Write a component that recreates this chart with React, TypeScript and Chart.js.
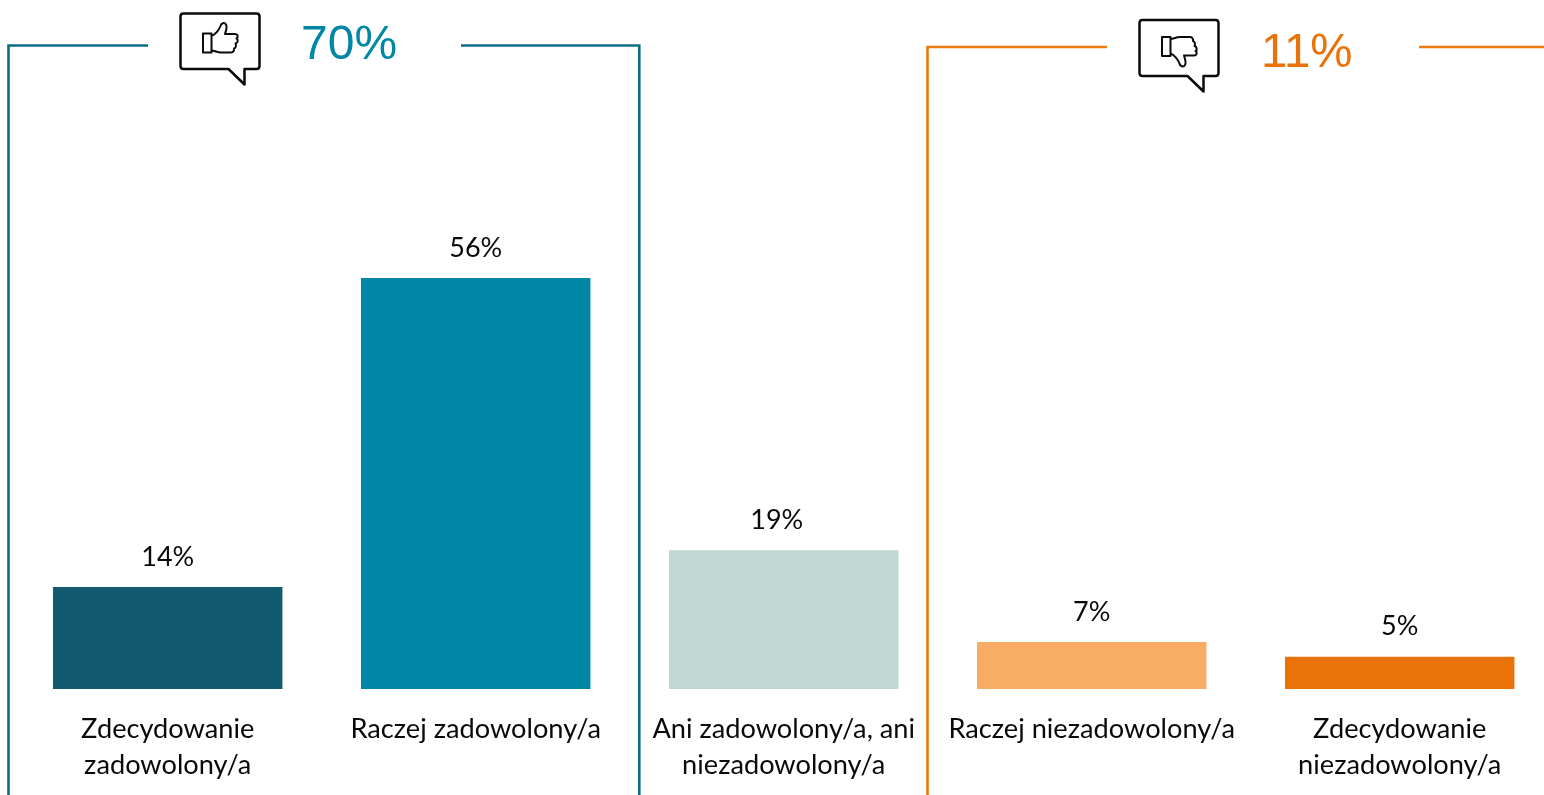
import React, { useEffect, useRef } from "react";
import { Chart, registerables, Plugin } from "chart.js";

Chart.register(...registerables);

const categories: string[][] = [
  ["Zdecydowanie", "zadowolony/a"],
  ["Raczej zadowolony/a"],
  ["Ani zadowolony/a, ani", "niezadowolony/a"],
  ["Raczej niezadowolony/a"],
  ["Zdecydowanie", "niezadowolony/a"],
];
const values: number[] = [13.9, 56, 18.9, 6.4, 4.4];
const valueLabels: string[] = ["14%", "56%", "19%", "7%", "5%"];
const barColors: string[] = ["#125A70", "#0087A8", "#BFD8D2", "#F9AC63", "#EA7309"];
const positiveTotal = "70%";
const negativeTotal = "11%";

const FONT = "Lato, Carlito, Calibri, sans-serif";
const TEAL_LINE = "#0B6E84";
const ORANGE_LINE = "#EA7A12";

const THUMB =
  "M203 33.5 H211.5 V52.5 H203 Z " +
  "M211.5 36 C215 35 219 30 220.5 26 C221 23 224.5 22 226 24.5 C227.5 27 226 31 225 34 " +
  "H235 C238 34 238.5 37.5 236.5 38.5 C238.5 39.5 238 43 235.5 43.5 C236.5 45 236 48 234 48.5 " +
  "C234.5 50 233.5 52.5 231 52.5 H221 C217 52.5 215 50.5 211.5 50.5";

function drawIcon(ctx: CanvasRenderingContext2D, bx: number, by: number, flip: boolean, thumbDx: number, flipSum: number) {
  const w = 79;
  const h = flip ? 56 : 55.5;
  ctx.save();
  ctx.strokeStyle = "#0A0A0A";
  ctx.lineWidth = 2.5;
  ctx.lineJoin = "round";
  ctx.beginPath();
  const r = 3;
  ctx.moveTo(bx + r, by);
  ctx.lineTo(bx + w - r, by);
  ctx.quadraticCurveTo(bx + w, by, bx + w, by + r);
  ctx.lineTo(bx + w, by + h - r);
  ctx.quadraticCurveTo(bx + w, by + h, bx + w - r, by + h);
  ctx.lineTo(bx + 64, by + h);
  ctx.lineTo(bx + 64, by + h + 15.5);
  ctx.lineTo(bx + 48, by + h);
  ctx.lineTo(bx + r, by + h);
  ctx.quadraticCurveTo(bx, by + h, bx, by + h - r);
  ctx.lineTo(bx, by + r);
  ctx.quadraticCurveTo(bx, by, bx + r, by);
  ctx.closePath();
  ctx.stroke();
  ctx.restore();

  ctx.save();
  ctx.strokeStyle = "#0A0A0A";
  ctx.lineWidth = 2;
  ctx.lineJoin = "round";
  ctx.translate(thumbDx, flip ? flipSum : 0);
  if (flip) ctx.scale(1, -1);
  ctx.stroke(new Path2D(THUMB));
  ctx.restore();
}

const decorations: Plugin<"bar"> = {
  id: "decorations",
  afterDraw(chart) {
    const ctx = chart.ctx;
    ctx.save();
    ctx.lineJoin = "miter";
    ctx.lineWidth = 2.6;

    ctx.strokeStyle = TEAL_LINE;
    ctx.beginPath();
    ctx.moveTo(8.5, 795);
    ctx.lineTo(8.5, 45.5);
    ctx.lineTo(148, 45.5);
    ctx.moveTo(461, 45.5);
    ctx.lineTo(639.3, 45.5);
    ctx.lineTo(639.3, 795);
    ctx.stroke();

    ctx.strokeStyle = ORANGE_LINE;
    ctx.beginPath();
    ctx.moveTo(927.5, 795);
    ctx.lineTo(927.5, 47);
    ctx.lineTo(1107, 47);
    ctx.moveTo(1419, 47);
    ctx.lineTo(1544, 47);
    ctx.stroke();

    drawIcon(ctx, 180.5, 13.5, false, 0, 0);
    drawIcon(ctx, 1139.5, 20, true, 959, 89.5);

    ctx.textBaseline = "alphabetic";
    ctx.textAlign = "left";
    ctx.font = "48px 'Liberation Sans', Arial, sans-serif";
    ctx.fillStyle = "#0087A8";
    ctx.fillText(positiveTotal, 301, 59);
    ctx.fillStyle = "#EA7309";
    ctx.font = "47.5px 'Liberation Sans', Arial, sans-serif";
    ctx.fillText(negativeTotal, 1261, 67);

    ctx.font = `27px ${FONT}`;
    ctx.fillStyle = "#0A0A0A";
    ctx.textAlign = "center";
    ctx.textBaseline = "middle";
    chart.getDatasetMeta(0).data.forEach((bar, i) => {
      const nudge = i === 2 ? -7 : 0;
      ctx.fillText(valueLabels[i], bar.x + nudge, bar.y - 30);
    });
    ctx.restore();
  },
};

export default function App() {
  const ref = useRef<HTMLCanvasElement>(null);
  useEffect(() => {
    const chart = new Chart(ref.current!, {
      type: "bar",
      data: {
        labels: categories,
        datasets: [
          {
            data: values,
            backgroundColor: barColors,
            categoryPercentage: 1,
            barPercentage: 0.745,
            borderWidth: 0,
          },
        ],
      },
      options: {
        animation: false,
        responsive: false,
        devicePixelRatio: 1,
        layout: { padding: { left: 13.7, right: 6.3, top: 0, bottom: 0 } },
        plugins: { legend: { display: false }, tooltip: { enabled: false } },
        scales: {
          y: { display: false, min: 0, max: 93.87 },
          x: {
            grid: { display: false },
            border: { display: false },
            afterFit: (s: any) => {
              s.height = 106;
            },
            ticks: {
              color: "#0A0A0A",
              padding: 14,
              maxRotation: 0,
              minRotation: 0,
              autoSkip: false,
              font: { family: FONT, size: 27.2, lineHeight: 36 / 27.2 },
            },
          },
        },
      },
      plugins: [decorations],
    });
    return () => chart.destroy();
  }, []);
  return (
    <div style={{ position: "fixed", left: 0, top: 0, width: 1544, height: 795, overflow: "hidden", background: "#fff" }}>
      <canvas ref={ref} width={1560} height={795} style={{ display: "block" }} />
    </div>
  );
}
